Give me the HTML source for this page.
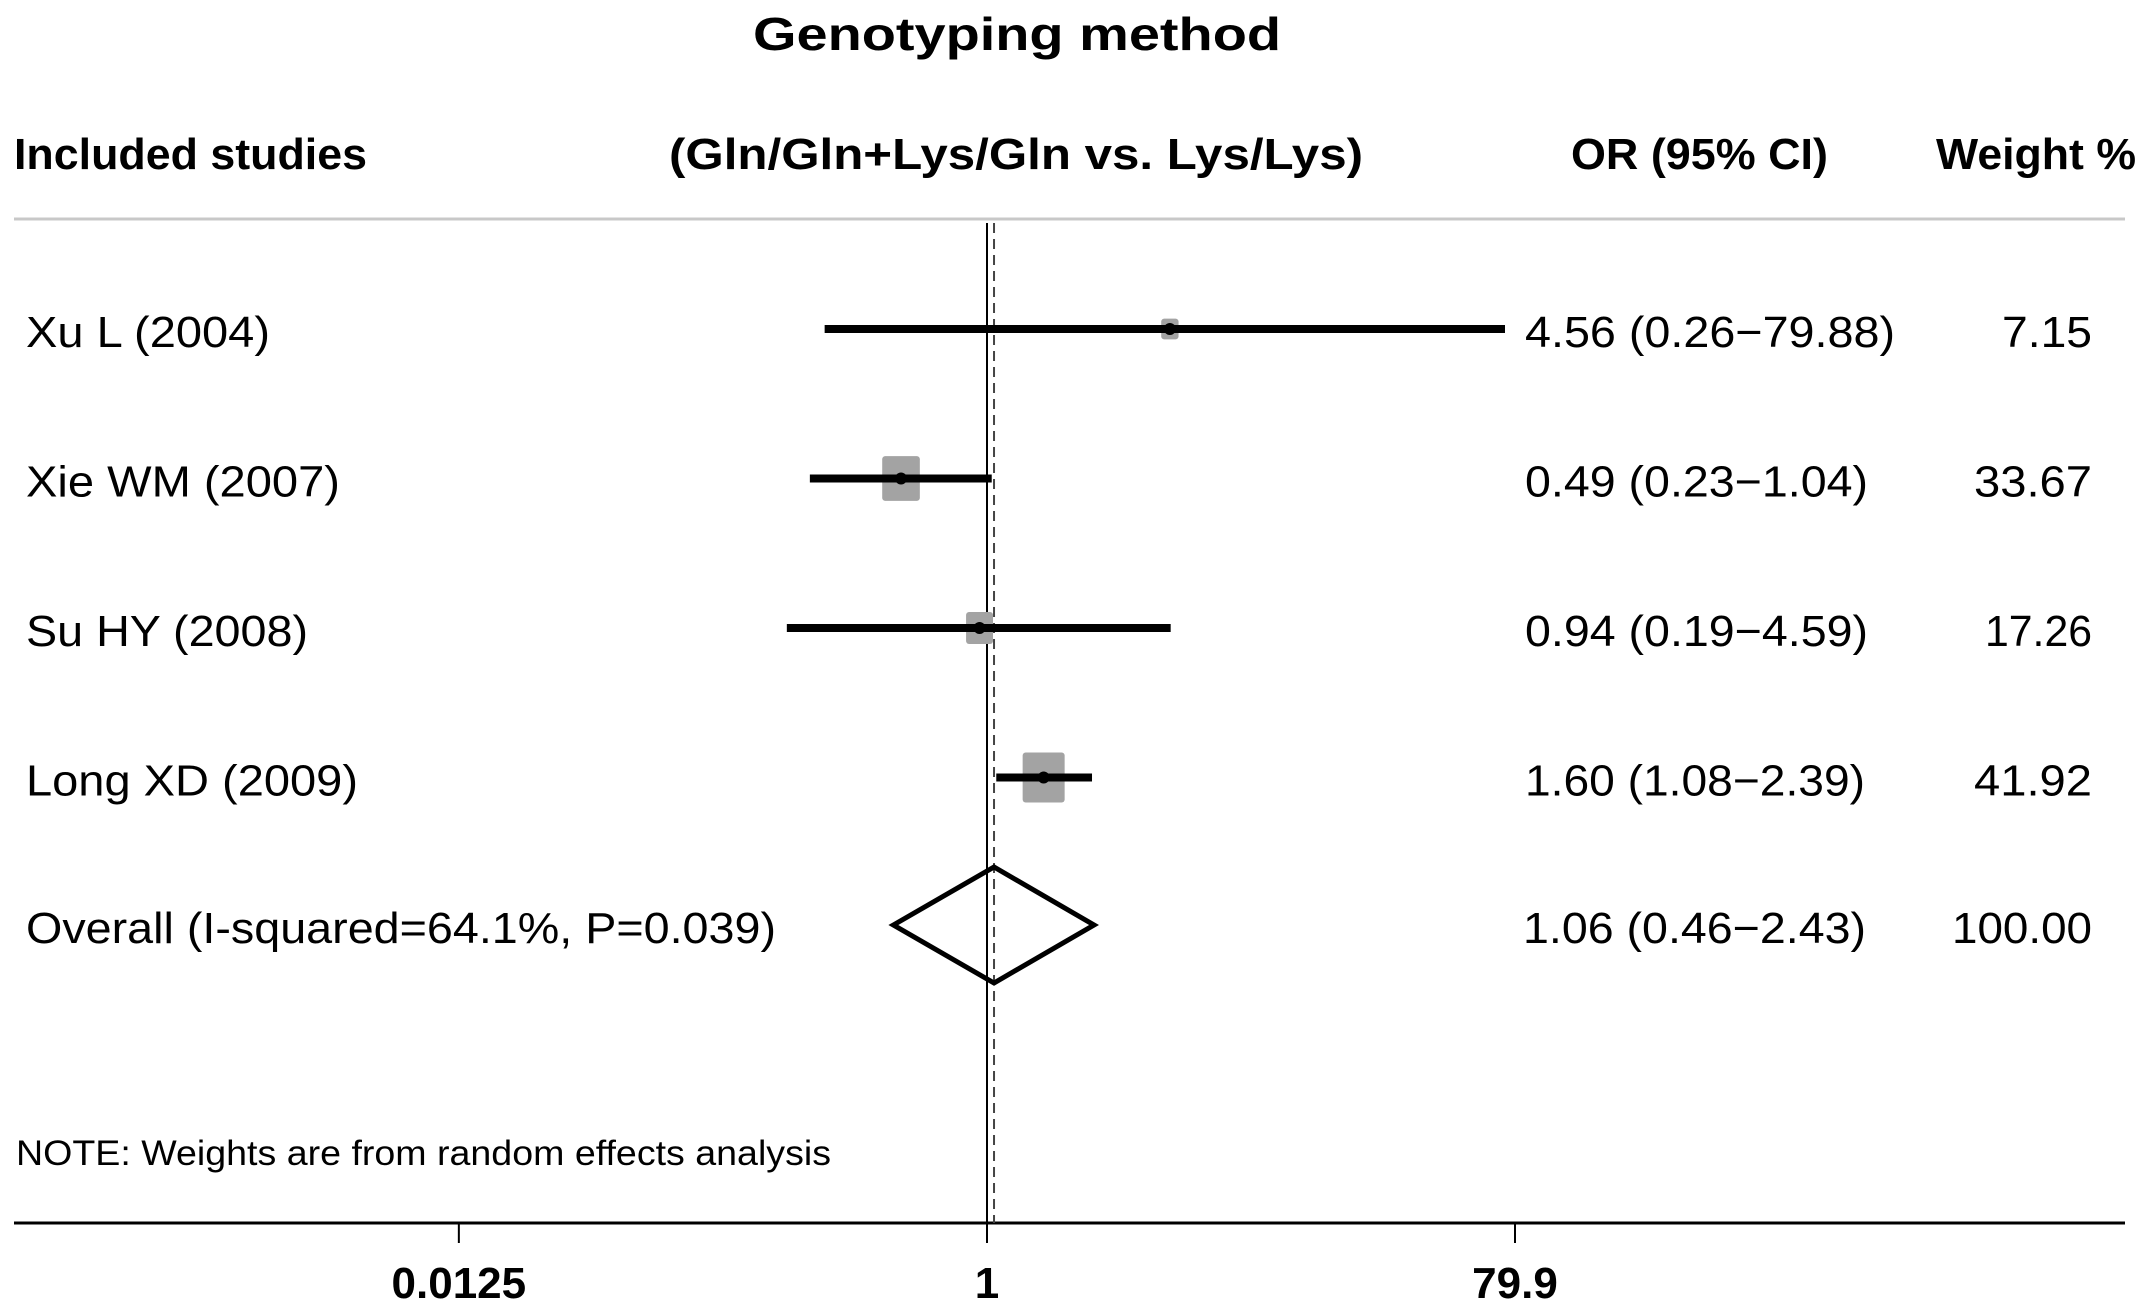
<!DOCTYPE html>
<html><head><meta charset="utf-8"><style>
html,body{margin:0;padding:0;background:#fff;}
svg{display:block;}
text{font-family:"Liberation Sans",sans-serif;fill:#000;}
.b{font-weight:bold;}
</style></head><body>
<svg id="chart" width="2150" height="1312" viewBox="0 0 2150 1312" xmlns="http://www.w3.org/2000/svg">
<text class="b" x="753" y="50" font-size="46" textLength="528" lengthAdjust="spacingAndGlyphs">Genotyping method</text>
<text class="b" x="14" y="169" font-size="44" textLength="353" lengthAdjust="spacingAndGlyphs">Included studies</text>
<text class="b" x="669" y="169" font-size="44" textLength="694" lengthAdjust="spacingAndGlyphs">(Gln/Gln+Lys/Gln vs. Lys/Lys)</text>
<text class="b" x="1571" y="169" font-size="44" textLength="257" lengthAdjust="spacingAndGlyphs">OR (95% CI)</text>
<text class="b" x="1936" y="169" font-size="44" textLength="200" lengthAdjust="spacingAndGlyphs">Weight %</text>
<line x1="14" y1="219" x2="2125" y2="219" stroke="#c8c8c8" stroke-width="3"/>
<text x="16" y="1165" font-size="35" textLength="815" lengthAdjust="spacingAndGlyphs">NOTE: Weights are from random effects analysis</text>
<line x1="14" y1="1223" x2="2125" y2="1223" stroke="#000" stroke-width="3"/>
<g id="marks"></g>
</svg>
<script>
const studies = ["Xu L (2004)", "Xie WM (2007)", "Su HY (2008)", "Long XD (2009)"];
const orValues = [4.56, 0.49, 0.94, 1.60];
const ciLower = [0.26, 0.23, 0.19, 1.08];
const ciUpper = [79.88, 1.04, 4.59, 2.39];
const weights = [7.15, 33.67, 17.26, 41.92];
const orLabels = ["4.56 (0.26\u221279.88)", "0.49 (0.23\u22121.04)", "0.94 (0.19\u22124.59)", "1.60 (1.08\u22122.39)"];
const weightLabels = ["7.15", "33.67", "17.26", "41.92"];
const overallLabel = "Overall (I-squared=64.1%, P=0.039)";
const overallOR = [1.06, 0.46, 2.43];
const overallORLabel = "1.06 (0.46\u22122.43)";
const overallWeightLabel = "100.00";
const tickValues = [0.0125, 1, 79.9];
const tickLabels = ["0.0125", "1", "79.9"];

// text layout widths (styling, not data)
const studyLabelW = [244, 314, 282, 332];
const orLabelW = [370, 343, 343, 340];
const weightLabelW = [90, 118, 107, 118];

const NS = "http://www.w3.org/2000/svg";
const g = document.getElementById("marks");
const x0 = 987, pxPerLn = 528 / Math.log(79.9);
function xs(v){ return x0 + Math.log(v) * pxPerLn; }
function rowY(i){ return 329 + i * 149.5; }
function mk(tag, attrs){ const e = document.createElementNS(NS, tag); for (const k in attrs) e.setAttribute(k, attrs[k]); g.appendChild(e); return e; }
function txt(str, attrs){ const e = mk("text", attrs); e.textContent = str; return e; }

let e = mk("line", {x1: xs(1), y1: 223, x2: xs(1), y2: 1223, stroke: "#000", "stroke-width": 2});


e = mk("line", {x1: xs(overallOR[0]), y1: 223, x2: xs(overallOR[0]), y2: 1223, stroke: "#444", "stroke-width": 2, "stroke-dasharray": "10 6"});



studies.forEach(function(name, i){
  const y = rowY(i);
  const s = Math.sqrt(weights[i] / 41.92);
  const w = 42 * s, h = 50 * s;
  let sq = mk("rect", {x: xs(orValues[i]) - w/2, y: y - h/2, width: w, height: h, fill: "#a3a3a3", rx: 3});
  
  
  let ci = mk("line", {x1: xs(ciLower[i]), y1: y, x2: Math.min(xs(ciUpper[i]), 1505), y2: y, stroke: "#000", "stroke-width": 8});
  
  
  let pt = mk("circle", {cx: xs(orValues[i]), cy: y, r: 6, fill: "#000"});
  
  
  let lab = txt(name, {x: 26, y: y + 18, "font-size": 44, textLength: studyLabelW[i], lengthAdjust: "spacingAndGlyphs"});
  
  
  let orT = txt(orLabels[i], {x: 1525, y: y + 18, "font-size": 44, textLength: orLabelW[i], lengthAdjust: "spacingAndGlyphs"});
  
  
  let wT = txt(weightLabels[i], {x: 2092 - weightLabelW[i], y: y + 18, "font-size": 44, textLength: weightLabelW[i], lengthAdjust: "spacingAndGlyphs"});
  
  
});

const yo = rowY(4) - 2;
let d = mk("polygon", {points: [xs(overallOR[1]) + "," + yo, xs(overallOR[0]) + "," + (yo - 58), xs(overallOR[2]) + "," + yo, xs(overallOR[0]) + "," + (yo + 58)].join(" "), fill: "none", stroke: "#000", "stroke-width": 5});


let ol = txt(overallLabel, {x: 26, y: 943, "font-size": 44, textLength: 750, lengthAdjust: "spacingAndGlyphs"});


let oo = txt(overallORLabel, {x: 1523, y: 943, "font-size": 44, textLength: 343, lengthAdjust: "spacingAndGlyphs"});


let ow = txt(overallWeightLabel, {x: 1952, y: 943, "font-size": 44, textLength: 140, lengthAdjust: "spacingAndGlyphs"});



tickValues.forEach(function(v, i){
  let t = mk("line", {x1: xs(v), y1: 1223, x2: xs(v), y2: 1243, stroke: "#000", "stroke-width": 2});
  
  
  let tl = txt(tickLabels[i], {x: xs(v), y: 1298, "font-size": 44, "text-anchor": "middle", class: "b"});
  
  
});
</script>
</body></html>
